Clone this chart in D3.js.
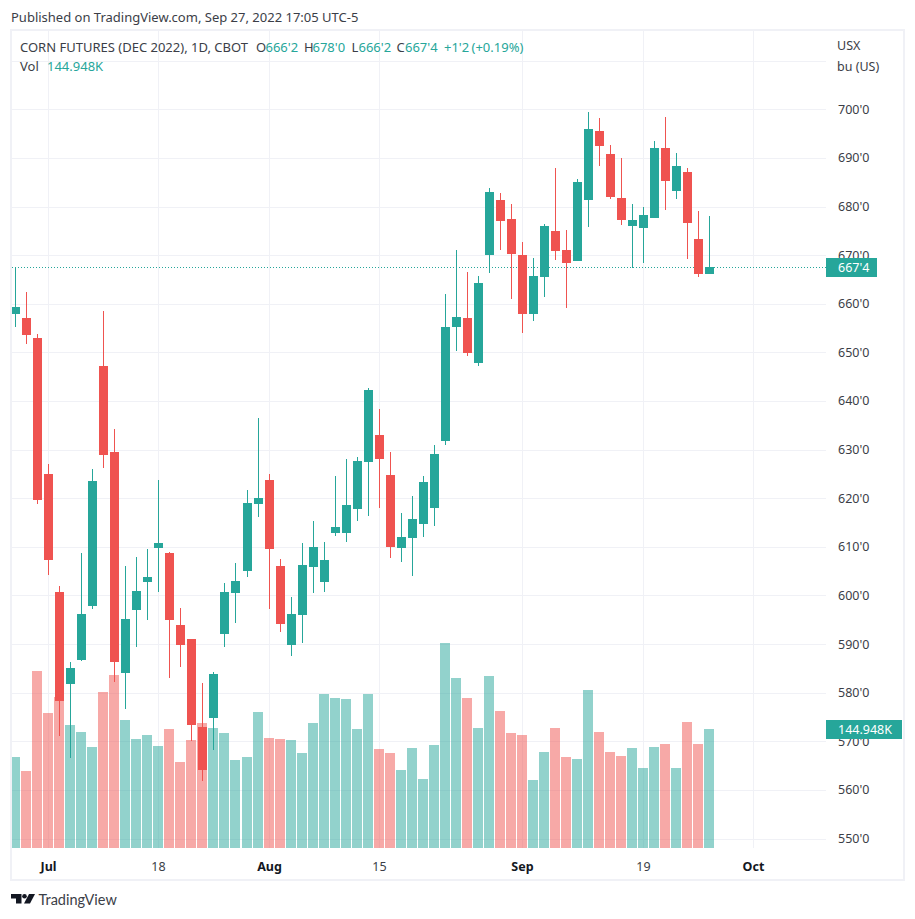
<!DOCTYPE html>
<html>
<head>
<meta charset="utf-8">
<script src="https://cdnjs.cloudflare.com/ajax/libs/d3/7.8.5/d3.min.js"></script>
<style>
  html, body { margin: 0; padding: 0; background: #fff; }
  svg { display: block; }
  text { font-family: "Noto Sans", sans-serif; fill: #3b3e47; }
</style>
</head>
<body>
<div id="chart"></div>
<script>
// daily candles, Jun 28 to Sep 27 2022, prices in cents
const opens = [658, 657, 653, 625, 600.75, 582, 587, 598, 647.25, 629.5, 584.25, 597.25, 603, 610, 608.75, 594,
  591, 573, 575, 592.25, 600.75, 605.25, 619, 623.75, 606, 590, 596.25, 606, 603, 613, 613, 618,
  627.75, 633, 624.75, 610, 612, 615, 618.25, 632, 655.5, 657, 648, 670.25, 681.25, 677.5, 670, 658,
  665.75, 675, 671, 669, 681.5, 695.5, 690.75, 681.75, 676.25, 675.75, 677.75, 692, 683.5, 687, 673.25, 666.25]
const highs = [667.5, 662.5, 653.75, 627, 602, 586.25, 608.75, 626, 658.5, 634.25, 606, 608, 609.5, 623.75, 609, 597.5,
  591, 582, 584.25, 602.5, 606.75, 621.75, 636.5, 625, 607.5, 599.75, 610.75, 615.25, 611, 624.5, 628, 628.5,
  642.75, 638.25, 629.5, 617, 620.5, 624.5, 631, 662, 671, 666.5, 665.75, 683.75, 682.75, 680.5, 672.75, 669.5,
  676.5, 688, 675.25, 685.75, 699.5, 698.25, 692.75, 690, 680.5, 680, 693.5, 698.5, 691, 688, 679, 678]
const lows = [655.5, 652, 619, 604.5, 571.25, 566.75, 586.75, 597.5, 626.5, 582.5, 576.75, 589.5, 595.25, 601, 583.25, 585.5,
  570.25, 562, 568.5, 589.5, 594.5, 604, 616.25, 597.5, 592.75, 587.75, 590.5, 600.75, 601, 612.5, 611.25, 615.5,
  616.5, 618.25, 608, 607, 604.25, 612.25, 614.5, 631.25, 650.5, 649.5, 647.5, 666.5, 671.25, 661.25, 654.25, 656.75,
  661.5, 669.25, 659.25, 669, 676, 688.5, 681.75, 676.5, 667.5, 668.5, 677.75, 679.5, 681.75, 669.5, 665.75, 666.25]
const closes = [659.25, 653.75, 619.75, 607.5, 578.5, 585, 596.25, 623.5, 629, 586.5, 595.25, 601, 603.75, 610.75, 595.25, 590,
  573.5, 564.25, 583.75, 600.75, 603, 619, 620, 609.75, 594.25, 596.25, 606.25, 610, 607.25, 614, 618.5, 627.75,
  642.25, 628.25, 610.25, 612, 615.75, 623.25, 629, 655.25, 657.25, 650, 664.25, 683, 677.25, 670.5, 658, 665.75,
  676, 671, 668.5, 685, 696, 692.75, 682.25, 677.5, 677.25, 678.25, 692, 685.5, 688.25, 676.75, 666.25, 667.5]
// volume in thousands
const volumes = [110.8, 93.8, 215.6, 164.4, 183.9, 149.8, 141.3, 123, 190, 210.7, 155.9, 132.8, 137.6, 124.2, 144.9, 104.8,
  131.5, 152.3, 146.2, 140.1, 107.2, 110.8, 165.7, 134, 132.8, 131.5, 115.7, 152.3, 187.6, 182.7, 181.5, 144.9,
  187.6, 120.6, 115.7, 95, 121.8, 84, 125.5, 249.7, 207.1, 182.7, 146.2, 209.5, 166.9, 140.1, 137.6, 82.8,
  116.9, 146.2, 110.8, 108.4, 192.4, 141.3, 116.9, 112.1, 121.8, 97.4, 123, 126.7, 97.4, 153.5, 126.7, 144.948]

const priceTicks = [550, 560, 570, 580, 590, 600, 610, 620, 630, 640, 650, 660, 670, 680, 690, 700]
const gridOnlyPrices = [710]
const timeTickBars = [3, 13, 23, 33, 46, 57, 67]
const timeTickLabels = ['Jul', '18', 'Aug', '15', 'Sep', '19', 'Oct']
const boldTimeLabels = ['Jul', 'Aug', 'Sep', 'Oct']

const lastPrice = "667'4"
const lastVolume = '144.948K'
const legendParts = [
  ['O', 256, false], ["666'2", 265.5, true],
  ['H', 304, false], ["678'0", 312.5, true],
  ['L', 351.5, false], ["666'2", 358.5, true],
  ['C', 396.5, false], ["667'4", 405, true],
  ["+1'2", 444, true], ['(+0.19%)', 471.5, true]
]

const width = 915
const height = 919
const pane = { left: 12, top: 31, right: 826, bottom: 848 }
const up = '#26a69a'
const down = '#ef5350'
const gridColor = '#f0f1f6'

const x = d3.scaleLinear().domain([0, 67]).range([15.59, 753.93])
const y = d3.scaleLinear().domain([550, 700]).range([838.5, 109.3])
const yVolume = d3.scaleLinear().domain([0, 144.948]).range([848, 729])

// price in cents and eighths, the way the exchange quotes it
const formatPrice = p => `${Math.floor(p)}'${(p - Math.floor(p)) * 8}`

const svg = d3.select('#chart').append('svg')
  .attr('width', width)
  .attr('height', height)

svg.append('clipPath').attr('id', 'pane-clip')
  .append('rect')
  .attr('x', pane.left)
  .attr('y', pane.top)
  .attr('width', pane.right - pane.left)
  .attr('height', pane.bottom - pane.top)

svg.append('text')
  .attr('x', 11)
  .attr('y', 22)
  .attr('font-size', 13)
  .text('Published on TradingView.com, Sep 27, 2022 17:05 UTC-5')

// frame
svg.append('rect')
  .attr('x', 11)
  .attr('y', 30)
  .attr('width', 893)
  .attr('height', 850)
  .attr('fill', '#fff')
  .attr('stroke', gridColor)
  .attr('stroke-width', 2)

// grid
svg.append('g').selectAll('line')
  .data(priceTicks.concat(gridOnlyPrices))
  .join('line')
  .attr('x1', pane.left)
  .attr('x2', pane.right)
  .attr('y1', d => Math.round(y(d)) + 0.5)
  .attr('y2', d => Math.round(y(d)) + 0.5)
  .attr('stroke', gridColor)

svg.append('g').selectAll('line')
  .data(timeTickBars)
  .join('line')
  .attr('x1', d => Math.floor(x(d)) + 0.5)
  .attr('x2', d => Math.floor(x(d)) + 0.5)
  .attr('y1', pane.top)
  .attr('y2', pane.bottom)
  .attr('stroke', gridColor)

const plot = svg.append('g').attr('clip-path', 'url(#pane-clip)')

// volume sits behind the candles
plot.append('g').selectAll('rect')
  .data(volumes)
  .join('rect')
  .attr('x', (_, i) => Math.floor(x(i)) - 5)
  .attr('width', 10)
  .attr('y', d => Math.round(yVolume(d)))
  .attr('height', d => yVolume(0) - Math.round(yVolume(d)))
  .attr('fill', (_, i) => closes[i] >= opens[i] ? up : down)
  .attr('fill-opacity', 0.5)

// last price line
plot.append('line')
  .attr('x1', pane.left)
  .attr('x2', pane.right)
  .attr('y1', Math.round(y(667.5)) + 0.5)
  .attr('y2', Math.round(y(667.5)) + 0.5)
  .attr('stroke', up)
  .attr('stroke-dasharray', '1 2')

const candles = plot.append('g').selectAll('g')
  .data(opens)
  .join('g')
  .attr('fill', (_, i) => closes[i] >= opens[i] ? up : down)

candles.append('rect')
  .attr('x', (_, i) => Math.floor(x(i)))
  .attr('width', 1)
  .attr('y', (_, i) => Math.round(y(highs[i])))
  .attr('height', (_, i) => Math.round(y(lows[i])) - Math.round(y(highs[i])) + 1)

candles.append('rect')
  .attr('x', (_, i) => Math.floor(x(i)) - 4)
  .attr('width', 9)
  .attr('y', (d, i) => Math.round(y(Math.max(d, closes[i]))))
  .attr('height', (d, i) => Math.round(y(Math.min(d, closes[i]))) - Math.round(y(Math.max(d, closes[i]))) + 1)

// price axis
svg.append('g').selectAll('text')
  .data(priceTicks)
  .join('text')
  .attr('x', 838)
  .attr('y', d => y(d) + 4.5)
  .attr('font-size', 12.5)
  .text(formatPrice)

svg.append('text').attr('x', 837).attr('y', 50).attr('font-size', 12.5).text('USX')
svg.append('text').attr('x', 837).attr('y', 71).attr('font-size', 12.5).text('bu (US)')

// time axis
svg.append('g').selectAll('text')
  .data(timeTickBars)
  .join('text')
  .attr('x', d => Math.floor(x(d)) + 0.5)
  .attr('y', 871)
  .attr('text-anchor', 'middle')
  .attr('font-size', 12.5)
  .attr('font-weight', (_, i) => boldTimeLabels.includes(timeTickLabels[i]) ? 700 : 400)
  .style('fill', (_, i) => boldTimeLabels.includes(timeTickLabels[i]) ? '#131722' : null)
  .text((_, i) => timeTickLabels[i])

// last value tags
const tags = [
  { text: lastPrice, top: 258, w: 51 },
  { text: lastVolume, top: 720, w: 76 }
]
const tag = svg.append('g').selectAll('g').data(tags).join('g')
tag.append('rect')
  .attr('x', pane.right)
  .attr('y', d => d.top)
  .attr('width', d => d.w)
  .attr('height', 19)
  .attr('fill', up)
tag.append('text')
  .attr('x', 838)
  .attr('y', d => d.top + 14)
  .attr('font-size', 12.5)
  .style('fill', '#fff')
  .text(d => d.text)

// legend
svg.append('text').attr('x', 20).attr('y', 52).attr('font-size', 13)
  .text('CORN FUTURES (DEC 2022), 1D, CBOT')
svg.append('g').selectAll('text')
  .data(legendParts)
  .join('text')
  .attr('x', d => d[1])
  .attr('y', 52)
  .attr('font-size', 13)
  .style('fill', d => d[2] ? up : null)
  .text(d => d[0])
svg.append('text').attr('x', 20).attr('y', 71).attr('font-size', 13).text('Vol')
svg.append('text').attr('x', 47).attr('y', 71).attr('font-size', 13).style('fill', up).text(lastVolume)

// logo
const logo = svg.append('g').attr('transform', 'translate(11,894)').attr('fill', '#131722')
logo.append('path').attr('d', 'M0 0H10.5V9.5H5V4.5H0Z')
logo.append('circle').attr('cx', 13.5).attr('cy', 2.3).attr('r', 2.3)
logo.append('path').attr('d', 'M18 0H24L19 9.5H13Z')
svg.append('text').attr('x', 38.5).attr('y', 905).attr('font-size', 14.5)
  .style('font-family', 'Lato, sans-serif')
  .text('TradingView')
</script>
</body>
</html>
